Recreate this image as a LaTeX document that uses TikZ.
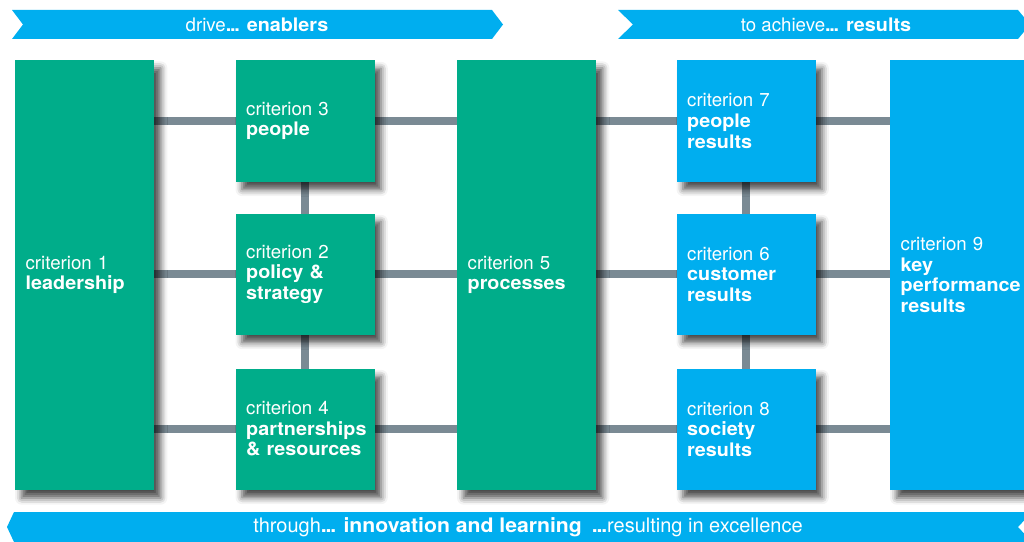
\documentclass[tikz,border=0pt]{standalone}
\usepackage{fontspec}
\setmainfont{TeX Gyre Heros}[BoldFeatures={FakeStretch=1.06}]
\usetikzlibrary{shadows.blur}
\hyphenpenalty=10000
\definecolor{efqmgreen}{HTML}{00AD8A}
\definecolor{efqmblue}{HTML}{00AEEF}
\definecolor{efqmbar}{HTML}{7A8A94}
\newcommand{\tightdots}{\textbf{.\kern-0.9pt.\kern-0.9pt.}}
\pgfdeclarelayer{background}
\pgfsetlayers{background,main}
\tikzset{
  crit/.style={rectangle, text=white, inner xsep=8pt, inner ysep=0pt, text width=88.25pt, align=left,
    minimum height=90.75pt, font=\fontsize{14}{15.4}\selectfont,
    blur shadow={shadow xshift=5pt, shadow yshift=-6pt, shadow blur radius=5pt, shadow opacity=70}},
  enabler/.style={crit, fill=efqmgreen},
  result/.style={crit, fill=efqmblue},
  tall/.style={minimum height=322.5pt},
  bar/.style={draw=efqmbar, line width=6pt},
  banner/.style={fill=efqmblue},
  bannertext/.style={text=white, font=\fontsize{14}{16}\selectfont}
}
\begin{document}
\begin{tikzpicture}[x=0.75pt,y=-0.75pt]
    \useasboundingbox (0,0) rectangle (1024,542);
    \clip (0,0) rectangle (1024,542);
    \fill[banner] (12,10) -- (492,10) -- (503,24.5) -- (492,39) -- (12,39) -- (23,24.5) -- cycle;
    \fill[banner] (618,10) -- (1018,10) -- (1030,24.5) -- (1018,39) -- (618,39) -- (633,24.5) -- cycle;
    \fill[banner] (14,512) -- (1032,512) -- (1018,527) -- (1032,542) -- (14,542) -- (7,527) -- cycle;
    \node[bannertext] (drive) at (257,24.5) {drive\tightdots{} \textbf{enablers}};
    \node[bannertext] (achieve) at (826,24.5) {to achieve\tightdots{} \textbf{results}};
    \node[bannertext, font=\fontsize{15}{16}\selectfont] (through) at (528,527) {through\tightdots{} \textbf{innovation and learning}\enspace \tightdots resulting in excellence};

    \node[enabler, tall] (c1) at (84.5,275) {criterion 1\\\textbf{leadership}};
    \node[enabler] (c3) at (305,121) {criterion 3\\\textbf{people}};
    \node[enabler] (c2) at (305,274) {criterion 2\\\textbf{policy \&}\\\textbf{strategy}};
    \node[enabler] (c4) at (305,429) {criterion 4\\\textbf{partnerships}\\\textbf{\& resources}};
    \node[enabler, tall] (c5) at (526.5,275) {criterion 5\\\textbf{processes}};
    \node[result] (c7) at (746,121) {criterion 7\\\textbf{people}\\\textbf{results}};
    \node[result] (c6) at (746,274) {criterion 6\\\textbf{customer}\\\textbf{results}};
    \node[result] (c8) at (746,429) {criterion 8\\\textbf{society}\\\textbf{results}};
    \node[result, tall, minimum width=105pt, text width=89pt] (c9) at (960,275) {criterion 9\\\textbf{key}\\\textbf{performance}\\\textbf{results}};

    \begin{pgfonlayer}{background}
    \draw[bar] (c1.east |- c3.center) -- (c9.west |- c3.center);
    \draw[bar] (c1.east |- c2.center) -- (c9.west |- c2.center);
    \draw[bar] (c1.east |- c4.center) -- (c9.west |- c4.center);
    \draw[bar] (c3.center) -- (c4.center);
    \draw[bar] (c7.center) -- (c8.center);
    \end{pgfonlayer}
\end{tikzpicture}
\end{document}
